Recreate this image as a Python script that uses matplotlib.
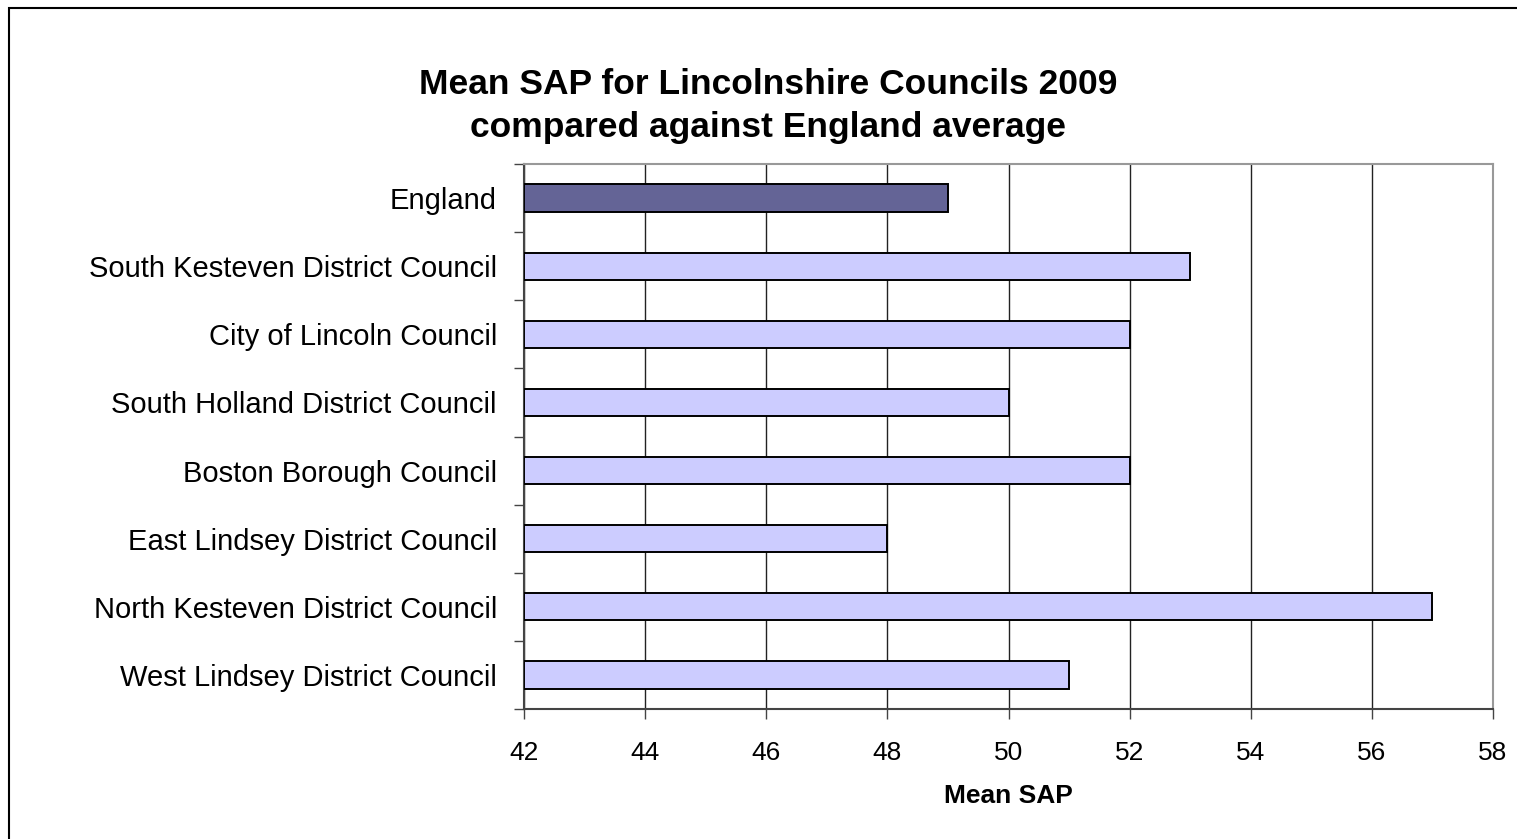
import matplotlib
matplotlib.use("Agg")
import matplotlib.pyplot as plt
from matplotlib.patches import Rectangle

categories = ["England", "South Kesteven District Council", "City of Lincoln Council",
              "South Holland District Council", "Boston Borough Council",
              "East Lindsey District Council", "North Kesteven District Council",
              "West Lindsey District Council"]
values = [49, 53, 52, 50, 52, 48, 57, 51]
colors = ["#646496"] + ["#CCCCFF"] * 7
xticks = [42, 44, 46, 48, 50, 52, 54, 56, 58]

plt.rcParams['font.family'] = ['Liberation Sans', 'DejaVu Sans']

fig = plt.figure(figsize=(15.17, 8.39), dpi=100)
fig.patches.append(Rectangle((9/1517, -0.1), 2.0, 1 - 8/839 + 0.1, transform=fig.transFigure,
                             fill=False, edgecolor="black", linewidth=1.5))
ax = fig.add_axes([524/1517, 1 - 709/839, (1493 - 524)/1517, (709 - 164)/839])

y = list(range(len(categories)))
ax.barh(y, [v - 42 for v in values], left=42, height=0.4, color=colors,
        edgecolor="black", linewidth=1.4, zorder=3)
ax.set_xlim(42, 58)
ax.set_ylim(len(categories) - 0.5, -0.5)
ax.set_xticks(xticks)
ax.set_xticklabels([str(t) for t in xticks], fontsize=19)
ax.set_yticks(y)
ax.set_yticklabels(categories, fontsize=21)
ax.tick_params(axis='y', length=0, pad=19.5)
ax.set_yticks([i - 0.5 for i in range(len(categories) + 1)], minor=True)
ax.tick_params(axis='y', which='minor', length=7, width=1, color='#444444')
ax.tick_params(axis='x', length=7, width=1, color='#444444', pad=16)
ax.grid(axis='x', color='#222222', linewidth=1, zorder=0)
for s in ['top', 'right']:
    ax.spines[s].set_color('#999999')
    ax.spines[s].set_linewidth(1.5)
for s in ['left', 'bottom']:
    ax.spines[s].set_color('#444444')
    ax.spines[s].set_linewidth(1.5)
ax.set_xlabel("Mean SAP", fontsize=19, fontweight='bold', labelpad=14)

fig.text(768/1517, 1 - 106/839, "Mean SAP for Lincolnshire Councils 2009\ncompared against England average",
         ha='center', va='center', fontsize=25.5, fontweight='bold', linespacing=1.4)

fig.savefig("out.png", dpi=100, facecolor="white")
